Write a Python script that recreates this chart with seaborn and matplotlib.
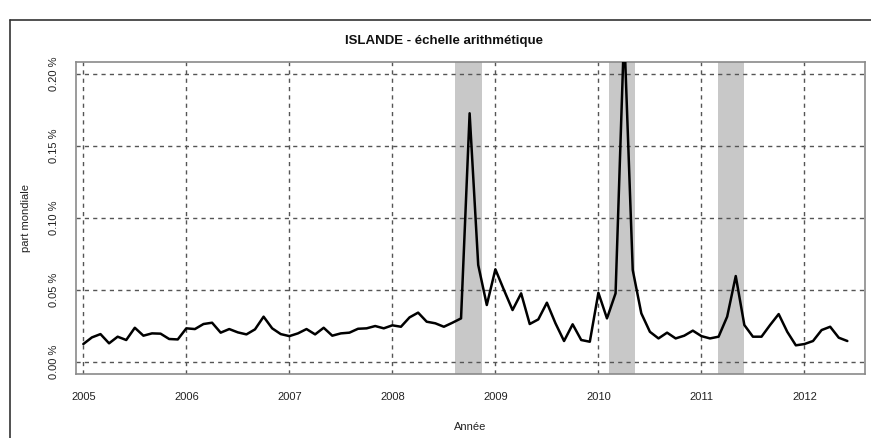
import numpy as np
import pandas as pd
import matplotlib
matplotlib.use("Agg")
import matplotlib.pyplot as plt
from matplotlib.lines import Line2D
import seaborn as sns

# ---- data (monthly share, in %) ----
years = [2005, 2006, 2007, 2008, 2009, 2010, 2011, 2012]
v2005 = [0.0125, 0.0171, 0.0194, 0.0130, 0.0176, 0.0153, 0.0238, 0.0183, 0.0199, 0.0197, 0.0160, 0.0157]
v2006 = [0.0234, 0.0229, 0.0264, 0.0273, 0.0204, 0.0229, 0.0206, 0.0192, 0.0227, 0.0315, 0.0234, 0.0194]
v2007 = [0.0180, 0.0199, 0.0229, 0.0192, 0.0238, 0.0183, 0.0199, 0.0204, 0.0231, 0.0234, 0.0250, 0.0234]
v2008 = [0.0255, 0.0245, 0.0310, 0.0343, 0.0280, 0.0269, 0.0245, 0.0273, 0.0303, 0.1727, 0.0674, 0.0396]
v2009 = [0.0644, 0.0500, 0.0361, 0.0477, 0.0264, 0.0296, 0.0412, 0.0269, 0.0146, 0.0262, 0.0153, 0.0141]
v2010 = [0.0481, 0.0303, 0.0477, 0.2300, 0.0639, 0.0338, 0.0210, 0.0164, 0.0204, 0.0164, 0.0183, 0.0218]
v2011 = [0.0180, 0.0164, 0.0176, 0.0315, 0.0597, 0.0257, 0.0176, 0.0176, 0.0257, 0.0333, 0.0210, 0.0116]
v2012 = [0.0125, 0.0146, 0.0222, 0.0245, 0.0169, 0.0146]

band_start = [2008.608, 2010.099, 2011.163]
band_end = [2008.866, 2010.353, 2011.415]

y_ticks = [0.00, 0.05, 0.10, 0.15, 0.20]
y_tick_labels = ["0.00 %", "0.05 %", "0.10 %", "0.15 %", "0.20 %"]
x_tick_labels = [str(y) for y in years]

title = "ISLANDE - échelle arithmétique"
xlabel = "Année"
ylabel = "part mondiale"

values = v2005 + v2006 + v2007 + v2008 + v2009 + v2010 + v2011 + v2012
t = [2005 + i / 12 for i in range(len(values))]
df = pd.DataFrame({"t": t, "part": values})

# ---- figure ----
sns.set_style("white")
plt.rcParams["font.family"] = ["Liberation Sans", "DejaVu Sans"]

W, H = 871, 438
fig = plt.figure(figsize=(W / 100, H / 100), dpi=100)
L, R, T, B = 76, 865, 62, 374
ax = fig.add_axes([L / W, 1 - B / H, (R - L) / W, (B - T) / H])

for s, e in zip(band_start, band_end):
    ax.axvspan(s, e, color="#c8c8c8", lw=0, zorder=0)

for yv in y_ticks:
    ax.axhline(yv, color="#555555", lw=1.0, ls=(0, (3, 3)), zorder=1)
for xv in years:
    ax.axvline(xv, color="#555555", lw=1.0, ls=(0, (3, 3)), zorder=1)

sns.lineplot(data=df, x="t", y="part", ax=ax, color="black", lw=1.8, zorder=3)

ax.set_xlim(2004.929, 2012.588)
ax.set_ylim(-0.0083, 0.2083)

ax.set_xticks(years)
ax.set_xticklabels(x_tick_labels, fontsize=8)
ax.set_yticks(y_ticks)
ax.set_yticklabels(y_tick_labels, fontsize=8, rotation=90, va="center")
ax.tick_params(axis="both", direction="out", length=5, width=1, color="#333333",
               labelcolor="#222222", pad=6)
ax.tick_params(axis="x", pad=8)
ax.tick_params(axis="y", pad=7)

ax.set_xlabel(xlabel, fontsize=8, color="#222222", labelpad=14)
ax.set_ylabel(ylabel, fontsize=8, color="#222222", labelpad=13)

for sp in ax.spines.values():
    sp.set_color("#8a8a8a")
    sp.set_linewidth(1.2)

fig.text(444 / W, 1 - 41 / H, title, ha="center", va="center",
         fontsize=9.5, fontweight="bold", color="#111111")

# outer frame (top and left edges visible)
fig.add_artist(Line2D([10 / W, 1.0], [1 - 20 / H, 1 - 20 / H], transform=fig.transFigure,
                      color="#333333", lw=1.2))
fig.add_artist(Line2D([10 / W, 10 / W], [1 - 20 / H, 0.0], transform=fig.transFigure,
                      color="#333333", lw=1.2))

fig.savefig("out.png", dpi=100)
